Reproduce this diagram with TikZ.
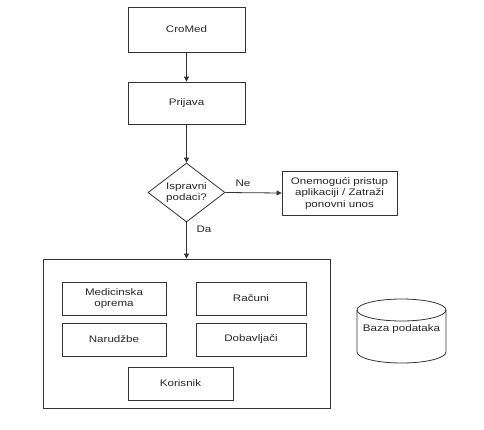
\documentclass[tikz,border=0pt]{standalone}
\usepackage{fontspec}
\setmainfont[FakeStretch=1.22]{Liberation Sans}
\usetikzlibrary{shapes.geometric,arrows.meta}
\begin{document}
\begin{tikzpicture}[x=1pt,y=-1pt,
  every node/.style={font=\fontsize{9.5}{11.5}\selectfont, text=black!85},
  box/.style={draw=black!80, line width=0.8pt, rectangle, inner sep=0pt, align=center},
  decision/.style={draw=black!80, line width=0.8pt, diamond, inner sep=0pt, align=center, minimum width=77pt, minimum height=59pt, aspect=1.3},
  conn/.style={draw=black!80, line width=0.8pt, -{Triangle[length=5pt,width=5pt]}},
  lbl/.style={inner sep=0pt}
]
\useasboundingbox (0,0) rectangle (484,429);
\node[box, minimum width=117pt, minimum height=45pt] (cromed) at (186.5,29.5) {CroMed};
\node[box, minimum width=117pt, minimum height=42pt] (prijava) at (186.5,103) {Prijava};
\node[decision] (ispravni) at (186.5,192.5) {Ispravni\\podaci?};
\node[box, minimum width=115pt, minimum height=44pt] (onemoguci) at (339.5,193) {Onemogući pristup\\aplikaciji / Zatraži\\ponovni unos};
\node[box, minimum width=287pt, minimum height=149pt] (sustav) at (186.5,333.5) {};
\node[box, minimum width=104pt, minimum height=33pt] (oprema) at (114,298.5) {Medicinska\\oprema};
\node[box, minimum width=110pt, minimum height=33pt] (racuni) at (251,298.5) {Računi};
\node[box, minimum width=104pt, minimum height=33pt] (narudzbe) at (114,339.5) {Narudžbe};
\node[box, minimum width=110pt, minimum height=33pt] (dobavljaci) at (251,339.5) {Dobavljači};
\node[box, minimum width=105pt, minimum height=33pt] (korisnik) at (180.5,383.5) {Korisnik};
% database cylinder
\coordinate (dbtl) at (357,310);
\coordinate (dbbl) at (357,352);
\draw[black!80, line width=0.8pt] (401.5,310) ellipse [x radius=44.5, y radius=11];
\draw[black!80, line width=0.8pt] (dbtl) -- (dbbl) arc[start angle=180, end angle=360, x radius=44.5, y radius=-11] -- (446,310);
\node (baza) at (401.5,329) {Baza podataka};
% connectors
\draw[conn] (cromed) -- (prijava);
\draw[conn] (prijava) -- (ispravni);
\draw[conn] (ispravni.east) -- (onemoguci.west);
\draw[conn] (ispravni.south) -- (sustav.north);
\node[lbl] (ne) at (243,183) {Ne};
\node[lbl] (da) at (204,229) {Da};
\end{tikzpicture}
\end{document}
